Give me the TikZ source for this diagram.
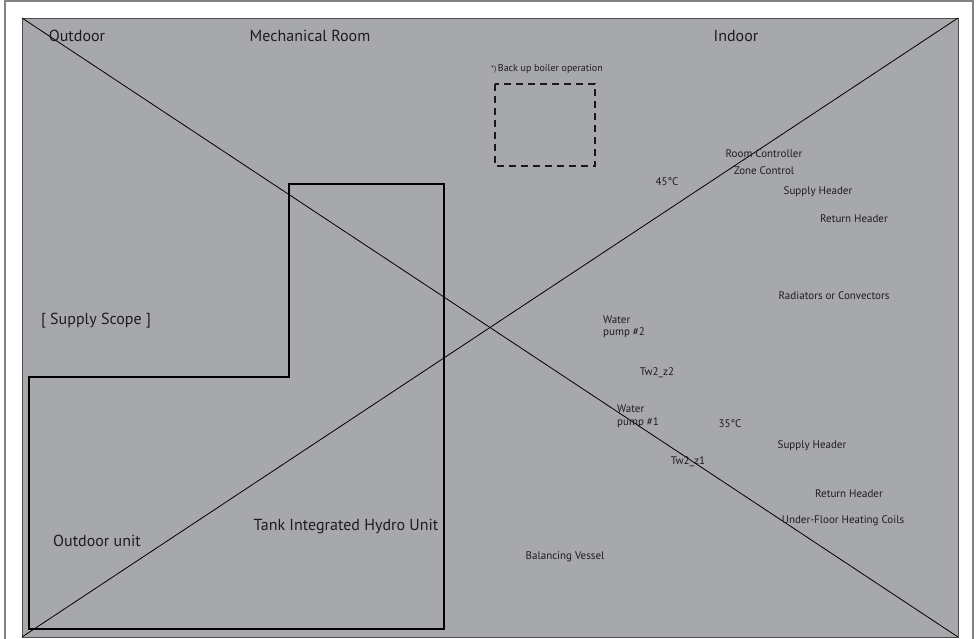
\documentclass[tikz,border=0pt]{standalone}
\usepackage{fontspec}
\setmainfont{PT Sans}
\definecolor{panel}{RGB}{167,168,172}
\definecolor{frame}{RGB}{130,130,132}
\definecolor{ink}{RGB}{30,28,29}
\begin{document}
\begin{tikzpicture}[x=1pt,y=-1pt,
  big/.style={text=ink,font=\fontsize{16}{17}\selectfont,inner sep=0pt},
  lbl/.style={text=ink,font=\fontsize{11}{12.5}\selectfont,inner sep=0pt},
  tiny/.style={text=ink,font=\fontsize{10}{11}\selectfont,inner sep=0pt},
  outline/.style={draw=black,line width=1.7pt},
  diag/.style={draw=black,line width=0.8pt}]
\useasboundingbox (0,0) rectangle (978,639);
\fill[white] (0,0) rectangle (978,639);
\draw[frame,line width=1.2pt] (5,645) -- (5,1) -- (973,1) -- (973,645);
% panel
\coordinate (tl) at (22,18);
\coordinate (tr) at (958,18);
\coordinate (bl) at (22,637);
\coordinate (br) at (958,637);
\fill[panel] (tl) rectangle (br);
\draw[black!70,line width=0.8pt] (tl) rectangle (br);
% supply scope outline
\coordinate (s1) at (29,377);
\coordinate (s2) at (289,377);
\coordinate (s3) at (289,184);
\coordinate (s4) at (444,184);
\coordinate (s5) at (444,629);
\coordinate (s6) at (29,629);
\draw[outline] (s1) -- (s2) -- (s3) -- (s4) -- (s5) -- (s6) -- cycle;
% diagonals
\draw[diag] (tl) -- (br);
\draw[diag] (bl) -- (tr);
% backup boiler dashed box
\draw[black!90,line width=2.4pt,dash pattern=on 7pt off 5pt] (495,84) rectangle (595,166);
% labels
\node[big] (outdoor) at (77,36) {Outdoor};
\node[big] (mech) at (310,36) {Mechanical Room};
\node[big] (indoor) at (736,36) {Indoor};
\node[tiny] (backup) at (547,69) {{\fontsize{8}{9}\selectfont*)}\,Back up boiler operation};
\node[lbl] (roomc) at (764,154) {Room Controller};
\node[lbl] (zonec) at (764,171) {Zone Control};
\node[lbl] (t45) at (667,182) {45°C};
\node[lbl] (sh1) at (818,192) {Supply Header};
\node[lbl] (rh1) at (854,219) {Return Header};
\node[lbl] (rad) at (834,296) {Radiators or Convectors};
\node[lbl,align=left,anchor=west] (wp2) at (603,327) {Water\\pump \#2};
\node[lbl] (tz2) at (657,373) {Tw2\_z2};
\node[lbl,align=left,anchor=west] (wp1) at (617,416) {Water\\pump \#1};
\node[lbl] (t35) at (730,424) {35°C};
\node[lbl] (sh2) at (812,446) {Supply Header};
\node[lbl] (tz1) at (688,462) {Tw2\_z1};
\node[lbl] (rh2) at (849,494) {Return Header};
\node[lbl] (ufh) at (843,521) {Under-Floor Heating Coils};
\node[lbl] (bv) at (565,557) {Balancing Vessel};
\node[big] (scope) at (96,321) {[ Supply Scope ]};
\node[big] (odu) at (97,541) {Outdoor unit};
\node[big] (tank) at (346,527) {Tank Integrated Hydro Unit};
\end{tikzpicture}
\end{document}
